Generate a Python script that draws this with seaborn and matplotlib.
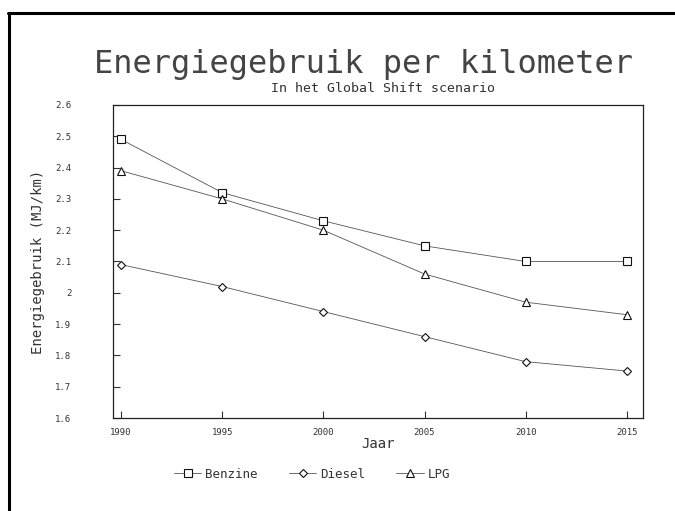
import matplotlib
matplotlib.use("Agg")
import matplotlib.pyplot as plt
import seaborn as sns
import pandas as pd

years = [1990, 1995, 2000, 2005, 2010, 2015]
benzine = [2.49, 2.32, 2.23, 2.15, 2.10, 2.10]
diesel = [2.09, 2.02, 1.94, 1.86, 1.78, 1.75]
lpg = [2.39, 2.30, 2.20, 2.06, 1.97, 1.93]
series_names = ["Benzine", "Diesel", "LPG"]
yticks = [1.6, 1.7, 1.8, 1.9, 2.0, 2.1, 2.2, 2.3, 2.4, 2.5, 2.6]
ytick_labels = ["1.6", "1.7", "1.8", "1.9", "2", "2.1", "2.2", "2.3", "2.4", "2.5", "2.6"]
xticks = [1990, 1995, 2000, 2005, 2010, 2015]

sns.set_theme(style="white")
plt.rcParams["font.family"] = ["DejaVu Sans Mono", "DejaVu Sans"]

df = pd.DataFrame({
    "Jaar": years * 3,
    "value": benzine + diesel + lpg,
    "fuel": [n for n in series_names for _ in years],
})

fig = plt.figure(figsize=(6.75, 5.11), dpi=100)
ax = fig.add_axes([113 / 675, 1 - 418 / 511, 530 / 675, 313 / 511])

markers = {"Benzine": "s", "Diesel": "D", "LPG": "^"}
sns.lineplot(data=df, x="Jaar", y="value", hue="fuel", style="fuel",
             markers=markers, dashes=False,
             palette={n: "#555555" for n in series_names},
             linewidth=0.6, markersize=6, markerfacecolor="white",
             markeredgecolor="#111111", markeredgewidth=0.8, ax=ax, legend=True)

for line in ax.lines:
    if line.get_marker() == "D":
        line.set_markersize(4.5)

ax.set_xlim(1989.6, 2015.8)
ax.set_ylim(1.6, 2.6)
ax.set_yticks(yticks)
ax.set_yticklabels(ytick_labels)
ax.set_xticks(xticks)
ax.tick_params(direction="in", length=5, width=0.8, colors="#333333", labelsize=6.5,
               bottom=True, left=True)
ax.tick_params(axis="x", pad=7)
ax.tick_params(axis="y", pad=30)
for s in ax.spines.values():
    s.set_color("#222222")
    s.set_linewidth(0.9)

ax.set_xlabel("Jaar", fontsize=10, color="#333333", labelpad=0)
ax.set_ylabel("Energiegebruik (MJ/km)", fontsize=10, color="#333333", labelpad=7)

fig.text(364 / 675, 1 - 65 / 511, "Energiegebruik per kilometer", ha="center", va="center",
         fontsize=23, color="#444444")
fig.text(383 / 675, 1 - 89 / 511, "In het Global Shift scenario", ha="center", va="center",
         fontsize=9.5, color="#333333")

handles, labels = ax.get_legend_handles_labels()
ax.legend(handles, labels, loc="center", bbox_to_anchor=(312 / 675, 1 - 474 / 511),
          bbox_transform=fig.transFigure, ncol=3, frameon=False, fontsize=9,
          handlelength=2.2, handletextpad=0.3, columnspacing=2.5,
          labelcolor="#333333")

# outer frame lines (top and left)
fig.add_artist(plt.Line2D([8 / 675, 1.0], [1 - 13 / 511, 1 - 13 / 511],
                          transform=fig.transFigure, color="black", lw=2.2))
fig.add_artist(plt.Line2D([9 / 675, 9 / 675], [0, 1 - 13 / 511],
                          transform=fig.transFigure, color="black", lw=2.2))

fig.savefig("out.png", dpi=100, facecolor="white")
